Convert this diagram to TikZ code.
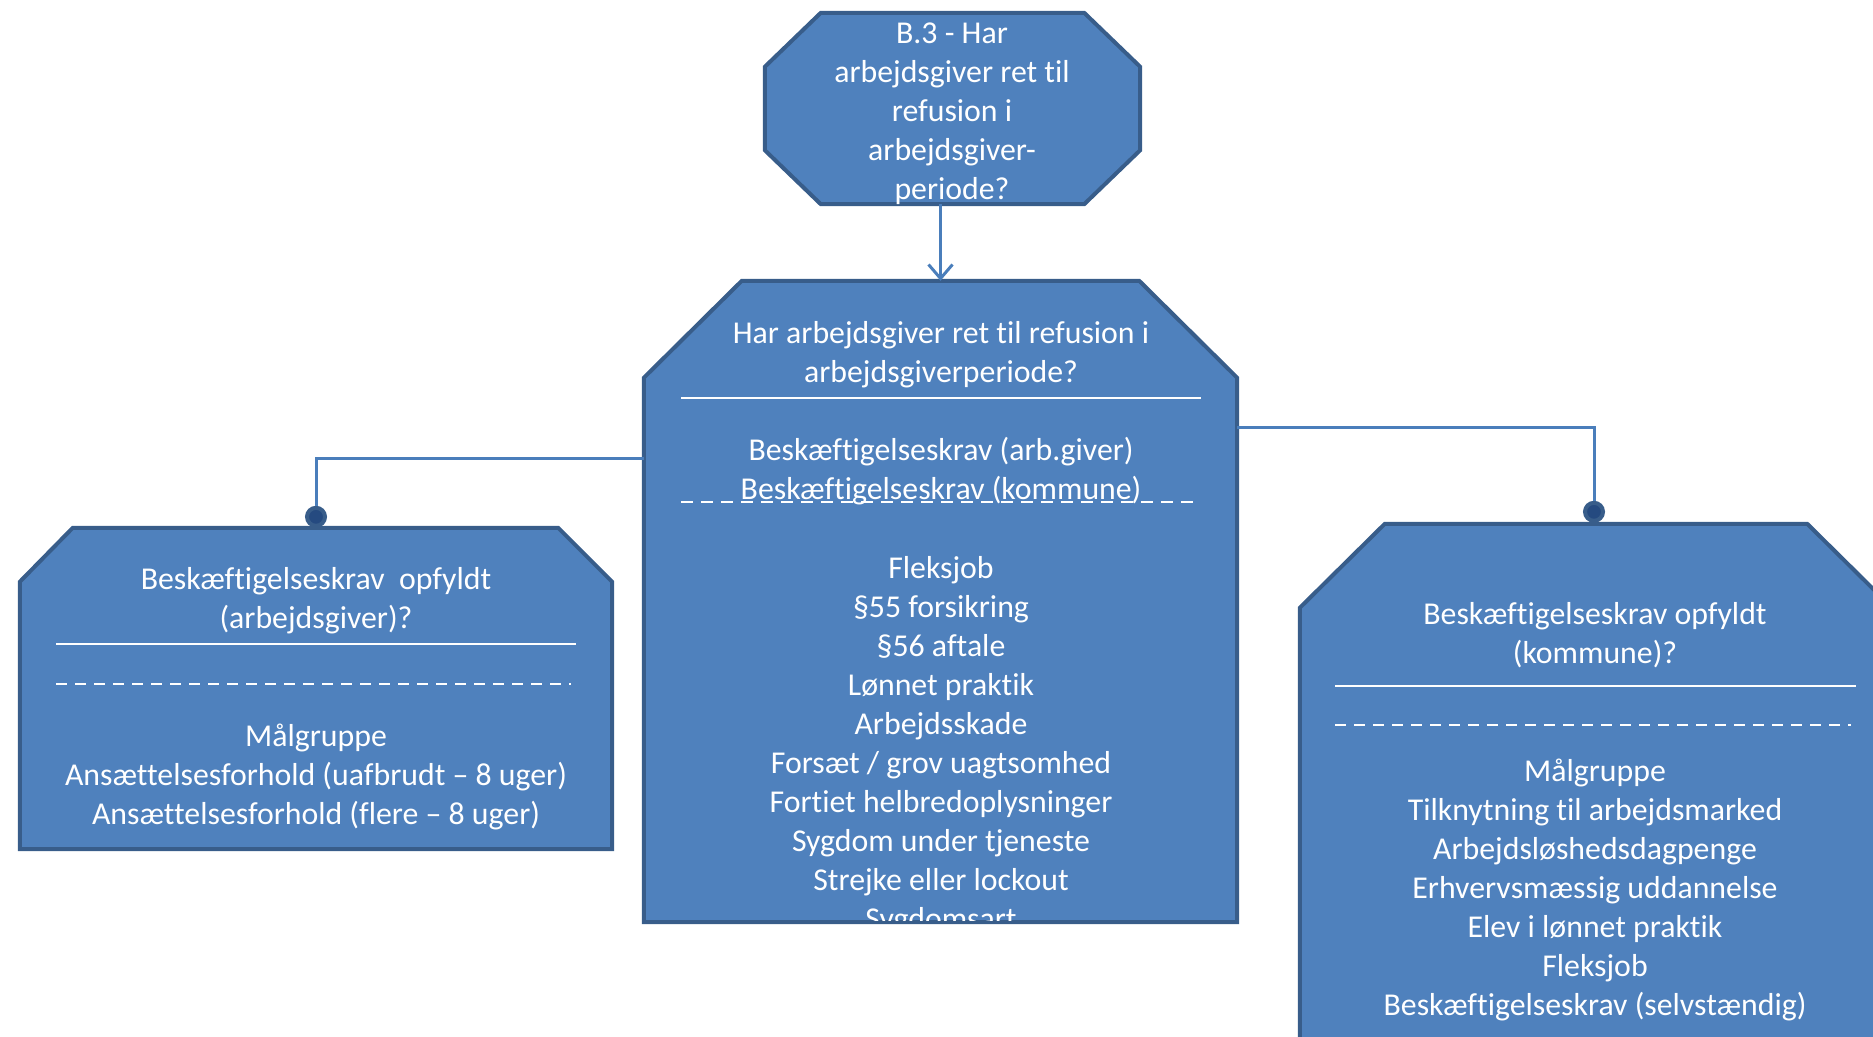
\documentclass[tikz,border=0pt]{standalone}
\usepackage{fontspec}
\setmainfont{Carlito}[Ligatures=NoCommon]
\usetikzlibrary{arrows.meta,calc}
\definecolor{boxfill}{HTML}{4F81BD}
\definecolor{boxedge}{HTML}{385D8A}
\definecolor{linkcol}{HTML}{4A7EBB}
\definecolor{dotfill}{HTML}{254A80}

\begin{document}
\begin{tikzpicture}[x=1pt,y=-1pt,
  frame/.style={rectangle,draw=none,inner sep=0pt},
  shell/.style={fill=boxfill,draw=boxedge,line width=4pt,line join=miter},
  txt/.style={text=white,align=center,inner sep=0pt,font=\fontsize{31.8pt}{39pt}\selectfont},
  rule/.style={white,line width=2.5pt},
  cut/.style={white,line width=2.5pt,dash pattern=on 11pt off 8pt},
  link/.style={linkcol,line width=3pt},
  knob/.style={circle,fill=dotfill,draw=boxedge,line width=4pt,minimum size=18pt,inner sep=0pt}]
  \useasboundingbox (0,0) rectangle (1873,1036);
  \clip (0,0) rectangle (1873,1036);
   \node[frame,minimum width=375pt,minimum height=191pt] (Spm)  at (952.5,108.5) {};
   \node[frame,minimum width=593pt,minimum height=641pt] (Krav) at (940.5,601.5) {};
   \node[frame,minimum width=592pt,minimum height=321pt] (Arbg) at (316,688.5) {};
   \node[frame,minimum width=592pt,minimum height=560pt] (Komm) at (1596,804) {};
   \coordinate (KravL) at ($(Krav.north west)+(0,178)$);
   \coordinate (KravR) at ($(Krav.north east)+(0,147)$);
  % the four boxes, corners cut off
 \draw[shell] ($(Spm.north west)+(56,0)$) -- ($(Spm.north east)+(-56,0)$) -- ($(Spm.north east)+(0,54)$)
   -- ($(Spm.south east)+(0,-54)$) -- ($(Spm.south east)+(-56,0)$) -- ($(Spm.south west)+(56,0)$)
   -- ($(Spm.south west)+(0,-54)$) -- ($(Spm.north west)+(0,54)$) -- cycle;
 \draw[shell] ($(Krav.north west)+(98,0)$) -- ($(Krav.north east)+(-98,0)$) -- ($(Krav.north east)+(0,97)$)
   -- (Krav.south east) -- (Krav.south west) -- ($(Krav.north west)+(0,97)$) -- cycle;
 \draw[shell] ($(Arbg.north west)+(53,0)$) -- ($(Arbg.north east)+(-54,0)$) -- ($(Arbg.north east)+(0,54)$)
   -- (Arbg.south east) -- (Arbg.south west) -- ($(Arbg.north west)+(0,54)$) -- cycle;
 \draw[shell] ($(Komm.north west)+(85,0)$) -- ($(Komm.north east)+(-85,0)$) -- ($(Komm.north east)+(0,84)$)
   -- (Komm.south east) -- (Komm.south west) -- ($(Komm.north west)+(0,84)$) -- cycle;
  % connectors
 \draw[link,-{Straight Barb[length=14pt,width=24pt]}] (Spm.south -| Krav.north) -- (Krav.north);
   \node[knob] (DotL) at ($(Arbg.north)+(0,-11)$) {};
   \node[knob] (DotR) at ($(Komm.north)+(-2,-12)$) {};
 \draw[link] (KravL) -| (DotL);
 \draw[link] (KravR) -| (DotR);
  % texts
  \node[txt] (SpmTxt) at (952,114) {B.3 - Har\\arbejdsgiver ret til\\refusion i\\arbejdsgiver-\\periode?};
  \node[txt] (KravHead) at (941,354.5) {Har arbejdsgiver ret til refusion i\\arbejdsgiverperiode?};
 \draw[rule] (681,398) -- (1201,398);
  \node[txt] (KravSub) at (941,471.5) {Beskæftigelseskrav (arb.giver)\\Beskæftigelseskrav (kommune)};
 \draw[cut,dash pattern=on 12pt off 8pt] (681,502) -- (1198,502);
  \begin{scope}
   \clip (Krav.north west) rectangle ($(Krav.south east)+(0,-2)$);
   \node[txt] (KravList) at (941,745.5) {Fleksjob\\§55 forsikring\\§56 aftale\\Lønnet praktik\\Arbejdsskade\\Forsæt / grov uagtsomhed\\Fortiet helbredoplysninger\\Sygdom under tjeneste\\Strejke eller lockout\\Sygdomsart};
  \end{scope}
  \node[txt] (ArbgHead) at (316,600.5) {Beskæftigelseskrav~ opfyldt\\(arbejdsgiver)?};
 \draw[rule] (56,644) -- (576,644);
 \draw[cut] (56,684) -- (571,684);
  \node[txt] (ArbgList) at (316,777) {Målgruppe\\Ansættelsesforhold (uafbrudt – 8 uger)\\Ansættelsesforhold (flere – 8 uger)};
  \node[txt] (KommHead) at (1595,635.5) {Beskæftigelseskrav opfyldt\\(kommune)?};
 \draw[rule] (1335,686) -- (1856,686);
 \draw[cut] (1335,725) -- (1851,725);
  \node[txt] (KommList) at (1595,889.5) {Målgruppe\\Tilknytning til arbejdsmarked\\Arbejdsløshedsdagpenge\\Erhvervsmæssig uddannelse\\Elev i lønnet praktik\\Fleksjob\\Beskæftigelseskrav (selvstændig)};
\end{tikzpicture}
\end{document}
